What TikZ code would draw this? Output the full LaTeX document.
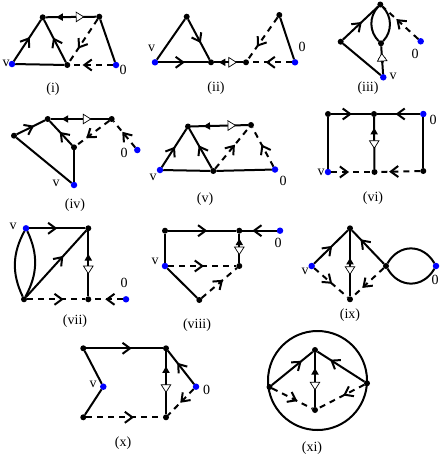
\documentclass[tikz,border=0pt]{standalone}
\usepackage{fontspec}
\setmainfont{Liberation Serif}
\usetikzlibrary{decorations.markings}
\tikzset{
  dot/.style={circle, fill=black, inner sep=0pt, outer sep=0pt, minimum size=6pt},
  bdot/.style={circle, fill=blue, inner sep=0pt, outer sep=0pt, minimum size=6.5pt},
  lbl/.style={inner sep=0pt, font=\fontsize{14}{16}\selectfont},
  dsh/.style={dash pattern=on 6pt off 5pt},
  chev/.style={postaction={decorate, decoration={markings, mark=at position #1 with {\draw[solid, line width=2pt, line join=miter] (-7.5pt,5.5pt) -- (0pt,0pt) -- (-7.5pt,-5.5pt);}}}},
  tri/.style 2 args={postaction={decorate, decoration={markings,
     mark=at position #1 with {\fill[solid] (0pt,0pt) -- (6.5pt,3.8pt) -- (6.5pt,-3.8pt) -- cycle;},
     mark=at position #2 with {\filldraw[solid, fill=white, line width=0.7pt] (0pt,0pt) -- (-7.5pt,4.8pt) -- (-7.5pt,-4.8pt) -- cycle;}}}},
  ring/.style={draw, circle, inner sep=0pt, outer sep=0pt, minimum size=99pt}
}
\begin{document}
\begin{tikzpicture}[x=1pt, y=-1pt, line width=2pt]
\useasboundingbox (0,0) rectangle (444,458);
% ---------- (i)
\node[bdot] (vI) at (12,64) {};
\node[dot] (AI) at (42.7,17.3) {};
\node[dot] (BI) at (99.3,16.7) {};
\node[dot] (CI) at (67.3,65) {};
\node[bdot] (ZI) at (116,65) {};
\node[lbl] (lvI) at (6,63) {v};
\node[lbl] (l0I) at (123,70) {0};
\node[lbl] (capI) at (53,89) {(i)};
\draw[chev=0.55] (vI) -- (AI);
\draw[chev=0.55] (CI) -- (AI);
\draw (vI) -- (CI);
\draw[tri={0.21}{0.75}] (AI) -- (BI);
\draw (BI) -- (ZI);
\draw[dsh, chev=0.65] (BI) -- (CI);
\draw[dsh, chev=0.67] (ZI) -- (CI);
% ---------- (ii)
\node[dot] (AII) at (186.7,16.7) {};
\node[bdot] (vII) at (155,62.3) {};
\node[dot] (CII) at (211,62.3) {};
\node[dot] (DII) at (246,62.3) {};
\node[dot] (EII) at (279.3,15) {};
\node[bdot] (ZII) at (295,62.3) {};
\node[lbl] (lvII) at (151.7,48.3) {v};
\node[lbl] (l0II) at (302,47) {0};
\node[lbl] (capII) at (216,88) {(ii)};
\draw[chev=0.5] (vII) -- (CII);
\draw (vII) -- (AII);
\draw[chev=0.55] (AII) -- (CII);
\draw[tri={0.17}{0.77}] (CII) -- (DII);
\draw (EII) -- (ZII);
\draw[dsh, chev=0.66] (EII) -- (DII);
\draw[dsh, chev=0.57] (ZII) -- (DII);
% ---------- (iii)
\node[dot] (TIII) at (380.3,4.5) {};
\node[dot] (LIII) at (340.7,41.7) {};
\node[dot] (MIII) at (381,43.3) {};
\node[bdot] (vIII) at (383.3,77.3) {};
\node[bdot] (ZIII) at (420.7,41.3) {};
\node[lbl] (lvIII) at (393,76) {v};
\node[lbl] (l0III) at (415,54) {0};
\node[lbl] (capIII) at (368,88) {(iii)};
\draw[chev=0.5] (LIII) -- (TIII);
\draw (LIII) -- (vIII);
\draw (TIII) to[bend left=45] (MIII);
\draw (TIII) to[bend right=45] (MIII);
\draw[tri={0.35}{0.74}] (vIII) -- (MIII);
\draw[dsh, chev=0.58] (ZIII) -- (TIII);
% ---------- (iv)
\node[dot] (LIV) at (14,135.7) {};
\node[dot] (AIV) at (47.7,119) {};
\node[dot] (BIV) at (111.7,119) {};
\node[dot] (CIV) at (74,147.3) {};
\node[bdot] (vIV) at (74,185) {};
\node[bdot] (ZIV) at (137.3,150) {};
\node[lbl] (lvIV) at (56,183) {v};
\node[lbl] (l0IV) at (124,153) {0};
\node[lbl] (capIV) at (75,205) {(iv)};
\draw[chev=0.56] (LIV) -- (AIV);
\draw (LIV) -- (vIV);
\draw[chev=0.5] (CIV) -- (AIV);
\draw (CIV) -- (vIV);
\draw[tri={0.19}{0.69}] (AIV) -- (BIV);
\draw[dsh, chev=0.66] (BIV) -- (CIV);
\draw[dsh, chev=0.55] (ZIV) -- (BIV);
% ---------- (v)
\node[bdot] (vV) at (160,170) {};
\node[dot] (AV) at (188,126.5) {};
\node[dot] (BV) at (251,125) {};
\node[dot] (CV) at (213.3,171) {};
\node[bdot] (ZV) at (275,169.5) {};
\node[lbl] (lvV) at (153,177) {v};
\node[lbl] (l0V) at (283,181) {0};
\node[lbl] (capV) at (205,199) {(v)};
\draw[chev=0.5] (vV) -- (AV);
\draw[chev=0.55] (CV) -- (AV);
\draw (vV) -- (CV);
\draw (CV) -- (ZV);
\draw[tri={0.22}{0.78}] (AV) -- (BV);
\draw[dsh, chev=0.55] (CV) -- (BV);
\draw[dsh, chev=0.53] (ZV) -- (BV);
% ---------- (vi)
\node[dot] (TLVI) at (328,114) {};
\node[dot] (TMVI) at (374,114) {};
\node[bdot] (ZVI) at (423.3,114) {};
\node[bdot] (vVI) at (328,172) {};
\node[dot] (BMVI) at (374.5,172) {};
\node[dot] (BRVI) at (423.3,171) {};
\node[lbl] (l0VI) at (433,120) {0};
\node[lbl] (lvVI) at (321,172) {v};
\node[lbl] (capVI) at (373,198) {(vi)};
\draw[chev=0.48] (TLVI) -- (TMVI);
\draw[chev=0.53] (ZVI) -- (TMVI);
\draw (TLVI) -- (vVI);
\draw (ZVI) -- (BRVI);
\draw[tri={0.21}{0.6}] (TMVI) -- (BMVI);
\draw[dsh, chev=0.4] (vVI) -- (BMVI);
\draw[dsh, chev=0.69] (BRVI) -- (BMVI);
% ---------- (vii)
\node[bdot] (vVII) at (26,228.3) {};
\node[dot] (TRVII) at (88.3,228.3) {};
\node[dot] (BLVII) at (24,299.3) {};
\node[dot] (BRVII) at (88.3,299.3) {};
\node[bdot] (ZVII) at (126,299.3) {};
\node[lbl] (lvVII) at (13,226) {v};
\node[lbl] (l0VII) at (124,283) {0};
\node[lbl] (capVII) at (75,321) {(vii)};
\draw[chev=0.47] (vVII) -- (TRVII);
\draw (vVII) to[bend left=27] (BLVII);
\draw (vVII) to[bend right=27] (BLVII);
\draw[chev=0.6] (BLVII) -- (TRVII);
\draw[tri={0.35}{0.65}] (TRVII) -- (BRVII);
\draw[dsh, chev=0.6] (BLVII) -- (BRVII);
\draw[dsh, chev=0.5] (ZVII) -- (BRVII);
% ---------- (viii)
\node[dot] (TLVIII) at (165,230.7) {};
\node[dot] (TMVIII) at (239.3,230.7) {};
\node[bdot] (ZVIII) at (280,230.7) {};
\node[bdot] (vVIII) at (165,266) {};
\node[dot] (MRVIII) at (239.3,266) {};
\node[dot] (BVIII) at (199.3,300) {};
\node[lbl] (l0VIII) at (278,243) {0};
\node[lbl] (lvVIII) at (155,261) {v};
\node[lbl] (capVIII) at (197,325) {(viii)};
\draw[chev=0.55] (TLVIII) -- (TMVIII);
\draw[chev=0.66] (ZVIII) -- (TMVIII);
\draw (TLVIII) -- (vVIII);
\draw (vVIII) -- (BVIII);
\draw[tri={0.17}{0.71}] (TMVIII) -- (MRVIII);
\draw[dsh, chev=0.5] (vVIII) -- (MRVIII);
\draw[dsh, chev=0.57] (BVIII) -- (MRVIII);
% ---------- (ix)
\node[dot] (TIX) at (350,228.3) {};
\node[bdot] (vIX) at (311.7,266) {};
\node[dot] (BIX) at (350,299.3) {};
\node[dot] (RIX) at (386,266) {};
\node[bdot] (ZIX) at (436,266) {};
\node[lbl] (lvIX) at (305,271) {v};
\node[lbl] (l0IX) at (435,280) {0};
\node[lbl] (capIX) at (350,315) {(ix)};
\draw[chev=0.5] (vIX) -- (TIX);
\draw[chev=0.7] (RIX) -- (TIX);
\draw[tri={0.41}{0.66}] (TIX) -- (BIX);
\draw (RIX) to[bend left=60, looseness=1.25] (ZIX);
\draw (RIX) to[bend right=60, looseness=1.25] (ZIX);
\draw[dsh, chev=0.5] (vIX) -- (BIX);
\draw[dsh, chev=0.64] (RIX) -- (BIX);
% ---------- (x)
\node[dot] (TLX) at (83.3,348.3) {};
\node[dot] (TRX) at (166,348.3) {};
\node[bdot] (vX) at (103.3,386.7) {};
\node[dot] (BLX) at (83.3,417.3) {};
\node[dot] (BRX) at (166,417.3) {};
\node[bdot] (ZX) at (196,386.7) {};
\node[lbl] (lvX) at (93,384) {v};
\node[lbl] (l0X) at (206.7,390) {0};
\node[lbl] (capX) at (123,443) {(x)};
\draw[chev=0.57] (TLX) -- (TRX);
\draw (TLX) -- (vX);
\draw (vX) -- (BLX);
\draw[chev=0.6] (ZX) -- (TRX);
\draw[tri={0.24}{0.65}] (TRX) -- (BRX);
\draw[dsh, chev=0.6] (BLX) -- (BRX);
\draw[dsh, chev=0.48] (ZX) -- (BRX);
% ---------- (xi)
\node[ring] (cXI) at (317.5,380.5) {};
\node[dot] (TXI) at (315,350) {};
\node[dot] (LXI) at (269.5,387) {};
\node[dot] (RXI) at (367,383.3) {};
\node[dot] (BXI) at (315,410) {};
\node[lbl] (capXI) at (312,448) {(xi)};
\draw[chev=0.7] (LXI) -- (TXI);
\draw[chev=0.7] (RXI) -- (TXI);
\draw[tri={0.28}{0.68}] (TXI) -- (BXI);
\draw[dsh, chev=0.59] (LXI) -- (BXI);
\draw[dsh, chev=0.42] (RXI) -- (BXI);
\end{tikzpicture}
\end{document}
